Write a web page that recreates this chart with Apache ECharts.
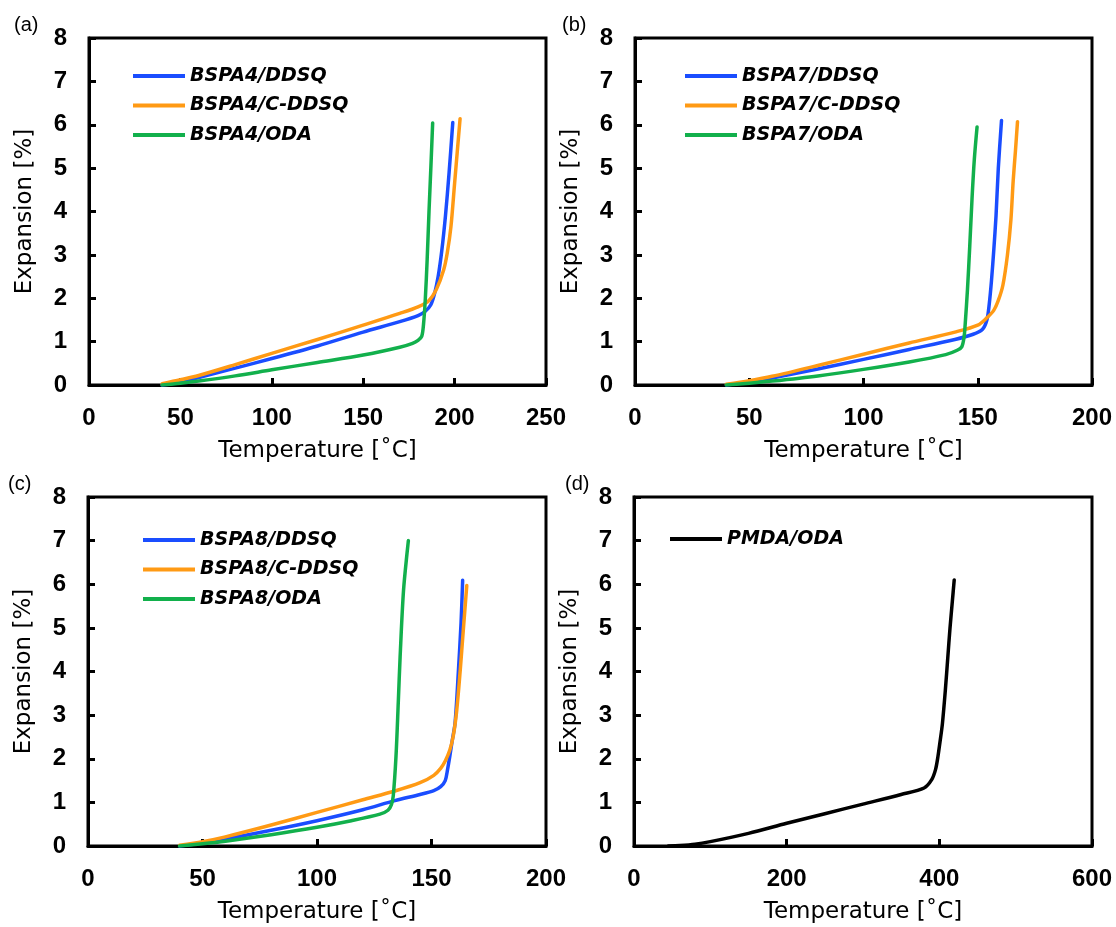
<!DOCTYPE html>
<html>
<head>
<meta charset="utf-8">
<script src="https://cdn.jsdelivr.net/npm/echarts@6/dist/echarts.min.js"></script>
<style>
html,body{margin:0;padding:0;background:#fff;}
#chart{width:1116px;height:927px;}
</style>
</head>
<body>
<div id="chart"></div>
<script>
// ---- Data (temperature in °C, expansion in %) ----
const panelLabels = ['(a)', '(b)', '(c)', '(d)'];
const xMaxes = [250, 200, 200, 600];
const xIntervals = [50, 50, 50, 200];

// (a)
const a_DDSQ_T = [40, 50, 60, 80, 100, 125, 150, 170, 180, 184, 187, 189, 191, 193, 195, 197, 199];
const a_DDSQ_E = [0, 0.07, 0.17, 0.39, 0.61, 0.9, 1.22, 1.46, 1.6, 1.7, 1.85, 2.1, 2.5, 3.1, 3.9, 4.9, 6.05];
const a_CDDSQ_T = [40, 50, 60, 80, 100, 125, 150, 170, 180, 186, 190, 194, 196, 198, 200, 201.5, 203];
const a_CDDSQ_E = [0.03, 0.12, 0.22, 0.47, 0.73, 1.05, 1.38, 1.65, 1.8, 1.95, 2.2, 2.65, 3.05, 3.65, 4.65, 5.4, 6.14];
const a_ODA_T = [40, 50, 60, 80, 100, 125, 150, 170, 177, 180, 182, 183, 184, 185, 186, 187, 188];
const a_ODA_E = [0, 0.04, 0.09, 0.21, 0.35, 0.52, 0.69, 0.87, 0.96, 1.03, 1.12, 1.4, 2.0, 2.9, 4.0, 5.0, 6.04];

// (b)
const b_DDSQ_T = [40, 50, 60, 80, 100, 120, 140, 148, 152, 154, 155, 156, 157, 158, 159, 160.4];
const b_DDSQ_E = [0, 0.07, 0.16, 0.37, 0.59, 0.82, 1.05, 1.17, 1.28, 1.5, 1.85, 2.4, 3.1, 3.9, 5.0, 6.1];
const b_CDDSQ_T = [40, 50, 60, 80, 100, 120, 140, 150, 154, 157, 159, 161, 163, 164.5, 165.5, 166.5, 167.4];
const b_CDDSQ_E = [0.02, 0.1, 0.2, 0.45, 0.71, 0.97, 1.22, 1.38, 1.55, 1.72, 1.95, 2.3, 3.0, 3.8, 4.7, 5.4, 6.07];
const b_ODA_T = [40, 50, 60, 80, 100, 120, 136, 141, 143, 144, 144.5, 145.5, 146.5, 147.5, 148.5, 149.7];
const b_ODA_E = [0, 0.04, 0.09, 0.21, 0.36, 0.53, 0.7, 0.8, 0.88, 1.1, 1.4, 2.2, 3.2, 4.3, 5.2, 5.95];

// (c)
const c_DDSQ_T = [40, 50, 60, 80, 100, 120, 134, 145, 151, 154, 156, 157, 158, 159, 160.3, 161.7, 162.9, 163.6];
const c_DDSQ_E = [0, 0.07, 0.16, 0.36, 0.58, 0.83, 1.04, 1.18, 1.27, 1.36, 1.5, 1.75, 2.06, 2.4, 2.83, 3.97, 5.11, 6.09];
const c_CDDSQ_T = [40, 50, 60, 80, 100, 120, 134, 145, 151, 154, 156, 158, 159.5, 161, 162.5, 163.9, 165.4];
const c_CDDSQ_E = [0.02, 0.1, 0.21, 0.48, 0.77, 1.06, 1.26, 1.45, 1.62, 1.78, 1.95, 2.2, 2.52, 3.1, 4.0, 4.96, 5.97];
const c_ODA_T = [40, 50, 60, 80, 100, 115, 127.5, 131, 132.5, 133.3, 134.5, 135.5, 136.3, 137.8, 139.9];
const c_ODA_E = [0, 0.05, 0.11, 0.26, 0.43, 0.58, 0.73, 0.82, 0.95, 1.15, 2.06, 3.3, 4.34, 5.87, 7.0];

// (d)
const d_PMDA_T = [45, 60, 80, 100, 150, 200, 250, 300, 350, 380, 390, 395, 398, 401, 404, 408, 411, 414, 417, 419.5];
const d_PMDA_E = [0, 0.01, 0.04, 0.1, 0.29, 0.52, 0.74, 0.96, 1.18, 1.33, 1.52, 1.75, 2.03, 2.4, 2.8, 3.6, 4.3, 5.0, 5.6, 6.1];

const seriesDefs = [
  {name: 'BSPA4/DDSQ',   panel: 0, T: a_DDSQ_T,  E: a_DDSQ_E,  color: '#1a4dff'},
  {name: 'BSPA4/C-DDSQ', panel: 0, T: a_CDDSQ_T, E: a_CDDSQ_E, color: '#ff9a14'},
  {name: 'BSPA4/ODA',    panel: 0, T: a_ODA_T,   E: a_ODA_E,   color: '#12b04c'},
  {name: 'BSPA7/DDSQ',   panel: 1, T: b_DDSQ_T,  E: b_DDSQ_E,  color: '#1a4dff'},
  {name: 'BSPA7/C-DDSQ', panel: 1, T: b_CDDSQ_T, E: b_CDDSQ_E, color: '#ff9a14'},
  {name: 'BSPA7/ODA',    panel: 1, T: b_ODA_T,   E: b_ODA_E,   color: '#12b04c'},
  {name: 'BSPA8/DDSQ',   panel: 2, T: c_DDSQ_T,  E: c_DDSQ_E,  color: '#1a4dff'},
  {name: 'BSPA8/C-DDSQ', panel: 2, T: c_CDDSQ_T, E: c_CDDSQ_E, color: '#ff9a14'},
  {name: 'BSPA8/ODA',    panel: 2, T: c_ODA_T,   E: c_ODA_E,   color: '#12b04c'},
  {name: 'PMDA/ODA',     panel: 3, T: d_PMDA_T,  E: d_PMDA_E,  color: '#000000'}
];

// ---- Layout ----
const grids = [
  {left: 89, top: 38, width: 457, height: 347},
  {left: 635, top: 38, width: 457, height: 347},
  {left: 88, top: 497, width: 458, height: 349},
  {left: 634, top: 497, width: 458, height: 349}
];
const labelPos = [
  {left: 14, top: 15}, {left: 562, top: 15}, {left: 8, top: 474}, {left: 565, top: 474}
];
const legendPos = [
  {left: 133, top: 66}, {left: 685, top: 66}, {left: 143, top: 530}, {left: 670, top: 529}
];

const tickFont = {fontFamily: 'Liberation Sans, Arial, sans-serif', fontWeight: 'bold', fontSize: 24, color: '#000'};
const nameFont = {fontFamily: 'DejaVu Sans, sans-serif', fontWeight: 'normal', fontSize: 23, color: '#000'};

const option = {
  backgroundColor: '#fff',
  animation: false,
  title: panelLabels.map((t, i) => ({
    text: t, left: labelPos[i].left, top: labelPos[i].top, padding: 0,
    textStyle: {fontFamily: 'Liberation Sans, Arial, sans-serif', fontWeight: 'normal', fontSize: 20, color: '#000'}
  })),
  grid: grids.map(g => Object.assign({show: true, borderColor: '#000', borderWidth: 3, backgroundColor: 'transparent', containLabel: false}, g)),
  xAxis: grids.map((g, i) => ({
    type: 'value', gridIndex: i, min: 0, max: xMaxes[i], interval: xIntervals[i],
    name: 'Temperature [˚C]', nameLocation: 'middle', nameGap: 55, nameTextStyle: nameFont,
    axisLine: {show: true, lineStyle: {color: '#000', width: 3}},
    axisTick: {show: true, inside: true, length: 7, lineStyle: {color: '#000', width: 3}},
    axisLabel: Object.assign({margin: 21}, tickFont),
    splitLine: {show: false}
  })),
  yAxis: grids.map((g, i) => ({
    type: 'value', gridIndex: i, min: 0, max: 8, interval: 1,
    name: 'Expansion [%]', nameLocation: 'middle', nameGap: 52, nameRotate: 90, nameTextStyle: nameFont,
    axisLine: {show: true, lineStyle: {color: '#000', width: 3}},
    axisTick: {show: true, inside: true, length: 7, lineStyle: {color: '#000', width: 3}},
    axisLabel: Object.assign({margin: 22}, tickFont),
    splitLine: {show: false}
  })),
  legend: grids.map((g, i) => ({
    orient: 'vertical', left: legendPos[i].left, top: legendPos[i].top, padding: 0,
    itemWidth: 52, itemHeight: 4, itemGap: 9.5, icon: 'rect', selectedMode: false,
    textStyle: {fontFamily: 'DejaVu Sans, sans-serif', fontStyle: 'italic', fontWeight: 'bold', fontSize: 19, lineHeight: 20, color: '#000'},
    data: seriesDefs.filter(s => s.panel === i).map(s => s.name)
  })),
  series: seriesDefs.map(s => ({
    name: s.name, type: 'line', xAxisIndex: s.panel, yAxisIndex: s.panel,
    data: s.T.map((t, k) => [t, s.E[k]]),
    showSymbol: false, symbol: 'none', smooth: 0.3,
    lineStyle: {color: s.color, width: 3.5, cap: 'round', join: 'round'}, itemStyle: {color: s.color}
  }))
};

const chart = echarts.init(document.getElementById('chart'), null, {renderer: 'canvas'});
chart.setOption(option);
</script>
</body>
</html>
